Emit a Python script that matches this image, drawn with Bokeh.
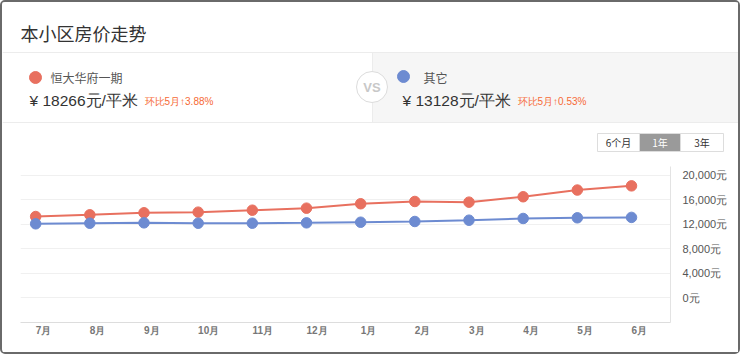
from bokeh.plotting import figure
from bokeh.layouts import column
from bokeh.models import Range1d, FixedTicker, CustomJSTickFormatter
from bokeh.core.properties import value
from bokeh.embed import file_html
from bokeh.resources import INLINE

# ---------------- data ----------------
title = "本小区房价走势"
months = ["7月", "8月", "9月", "10月", "11月", "12月", "1月", "2月", "3月", "4月", "5月", "6月"]
series_names = ["恒大华府一期", "其它"]
series_colors = ["#e8705f", "#6d8bd1"]
price_a = [13270, 13550, 13880, 13980, 14300, 14630, 15350, 15720, 15610, 16490, 17584, 18266]
price_b = [12080, 12180, 12240, 12180, 12180, 12240, 12340, 12460, 12670, 12950, 13059, 13128]
current_prices = [18266, 13128]
mom_changes = ["3.88", "0.53"]
y_ticks = [0, 4000, 8000, 12000, 16000, 20000]
y_tick_labels = ["0元", "4,000元", "8,000元", "12,000元", "16,000元", "20,000元"]
period_buttons = ["6个月", "1年", "3年"]

FONT = "Noto Sans CJK SC"
NUM_FONT = "Liberation Sans"

# ---------------- header (info panel) ----------------
H = figure(width=736, height=164, x_range=Range1d(2, 738), y_range=Range1d(166, 2),
           output_backend="svg", toolbar_location=None, min_border=0,
           x_axis_location=None, y_axis_location=None, outline_line_color=None)
H.frame_align = False
H.grid.visible = False
H.background_fill_color = "white"

H.quad(left=[372], right=[738], top=[52], bottom=[122], fill_color="#f6f6f6", line_color=None)
H.segment(x0=[2, 2, 372], y0=[52, 122, 52], x1=[738, 738, 372], y1=[52, 122, 122],
          line_color="#ececec", line_width=1)
H.text(x=[20], y=[32], text=[title], text_font_size="18px", text_color="#333333",
       text_baseline="middle", text_font=value(FONT))

H.circle(x=[371.5], y=[86.5], radius=15.5, fill_color="white", line_color="#dcdcdc", line_width=1)
H.text(x=[371.5], y=[87], text=["VS"], text_align="center", text_baseline="middle",
       text_font_size="13px", text_color="#c8c8c8", text_font_style="bold",
       text_font=value(NUM_FONT))

H.scatter(x=[35, 403], y=[77, 76], size=12, color=series_colors)
H.text(x=[50, 423], y=[77, 77], text=series_names, text_font_size="12px", text_color="#555555",
       text_baseline="middle", text_font=value(FONT))
H.text(x=[29, 402], y=[100, 100], text=[f"¥ {v}元/平米" for v in current_prices],
       text_font_size="15.5px", text_color="#333333", text_baseline="middle",
       text_font=value(NUM_FONT))
H.text(x=[144, 517], y=[101, 101], text=[f"环比5月↑{c}%" for c in mom_changes],
       text_font_size="10px", text_color="#f66a35", text_baseline="middle",
       text_font=value(NUM_FONT))

H.quad(left=[597, 639, 680], right=[639, 680, 723], top=[133] * 3, bottom=[151] * 3,
       fill_color=["white", "#9a9a9a", "white"], line_color="#dddddd", line_width=1)
H.text(x=[618, 659.5, 701.5], y=[142] * 3, text=period_buttons, text_align="center",
       text_baseline="middle", text_font_size="10px", text_color=["#333333", "white", "#333333"],
       text_font=value(FONT))

# ---------------- chart ----------------
x = list(range(len(months)))
p = figure(width=736, height=186, x_range=Range1d(-0.28, 11.72), y_range=Range1d(-4000, 21420),
           output_backend="svg", toolbar_location=None, min_border_left=18, min_border_right=68,
           min_border_top=0, min_border_bottom=30, y_axis_location="right",
           outline_line_color=None)
p.frame_align = False

# month labels start at the point (left aligned) -> shift tick by half label width
px_per_unit = 650 / 12.0
x_tick_pos = [i + (len(m) * 5.5 + 4.5) / 2 / px_per_unit for i, m in enumerate(months)]
p.xaxis.ticker = FixedTicker(ticks=x_tick_pos)
p.xaxis.formatter = CustomJSTickFormatter(args=dict(labels=months),
                                          code="return labels[Math.floor(tick + 1e-6)];")
p.xaxis.axis_line_color = "#dddddd"
p.xaxis.major_tick_line_color = None
p.xaxis.minor_tick_line_color = None
p.xaxis.major_tick_out = 0
p.xaxis.major_label_standoff = 2
p.xaxis.major_label_text_font_size = "10px"
p.xaxis.major_label_text_font_style = "bold"
p.xaxis.major_label_text_color = "#777777"
p.xaxis.major_label_text_font = NUM_FONT

p.yaxis.ticker = FixedTicker(ticks=y_ticks)
p.yaxis.major_label_overrides = dict(zip(y_ticks, y_tick_labels))
p.yaxis.axis_line_color = "#e3e3e3"
p.yaxis.major_tick_line_color = None
p.yaxis.minor_tick_line_color = None
p.yaxis.major_label_standoff = 6
p.yaxis.major_label_text_font_size = "11px"
p.yaxis.major_label_text_color = "#555555"
p.yaxis.major_label_text_font = NUM_FONT

p.xgrid.visible = False
p.ygrid.ticker = FixedTicker(ticks=y_ticks)
p.ygrid.grid_line_color = "#f0f0f0"

for vals, col in zip([price_a, price_b], series_colors):
    p.line(x, vals, line_color=col, line_width=2)
    p.scatter(x, vals, size=10.5, fill_color=col, line_color=col)

layout = column(H, p, spacing=0,
                styles={"border": "2px solid #6a6a6a", "border-radius": "5px"})

open("out.html", "w").write(file_html(layout, INLINE))
